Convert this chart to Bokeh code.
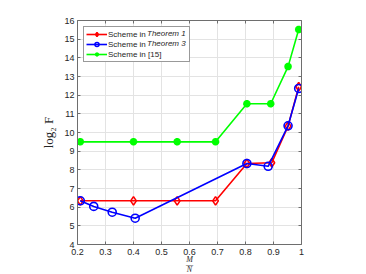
from bokeh.plotting import figure
from bokeh.models import (Range1d, FixedTicker, LinearAxis, CustomJSTickFormatter,
                          Legend, LegendItem)
from bokeh.embed import file_html
from bokeh.resources import INLINE

# ---- data ----
x_t1 = [0.21, 0.40, 0.556, 0.693, 0.805, 0.894, 0.952, 0.99]
y_t1 = [6.34, 6.34, 6.34, 6.34, 8.34, 8.38, 10.34, 12.45]
x_t3 = [0.21, 0.258, 0.324, 0.406, 0.805, 0.881, 0.952, 0.99]
y_t3 = [6.34, 6.04, 5.73, 5.41, 8.34, 8.19, 10.36, 12.36]
x_15 = [0.21, 0.40, 0.556, 0.693, 0.805, 0.890, 0.952, 0.99]
y_15 = [9.5, 9.5, 9.5, 9.5, 11.54, 11.54, 13.53, 15.52]
x_ticks = [0.2, 0.3, 0.4, 0.5, 0.6, 0.7, 0.8, 0.9, 1.0]
y_ticks = list(range(4, 17))
legend_italic = ["Theorem 1", "Theorem 3"]
legend_plain = ["Scheme in", "Scheme in", "Scheme in [15]"]

AX = "#6e6e6e"
TXT = "#262626"
FONT = "Liberation Sans"
SERIF = "Liberation Serif"

p = figure(frame_width=224, frame_height=224, output_backend="svg",
           toolbar_location=None,
           x_range=Range1d(0.2, 1.0), y_range=Range1d(4, 16),
           min_border_left=77, min_border_right=49, min_border_top=20,
           min_border_bottom=0)
p.outline_line_color = None

fmt = CustomJSTickFormatter(code="return Number(tick.toFixed(1)).toString();")
for ax in (p.xaxis[0], p.yaxis[0]):
    ax.major_tick_in = 3
    ax.major_tick_out = 0
    ax.minor_tick_line_color = None
    ax.axis_line_color = AX
    ax.major_tick_line_color = AX
    ax.major_label_text_color = TXT
    ax.major_label_text_font = FONT
    ax.major_label_text_font_size = "9px"
p.xaxis[0].ticker = FixedTicker(ticks=x_ticks)
p.xaxis[0].formatter = fmt
p.yaxis[0].ticker = FixedTicker(ticks=y_ticks)
p.xaxis[0].major_label_standoff = 4
p.yaxis[0].major_label_standoff = 3

p.yaxis[0].axis_label = "log\u2082 F"
p.yaxis[0].axis_label_text_font = SERIF
p.yaxis[0].axis_label_text_font_style = "normal"
p.yaxis[0].axis_label_text_font_size = "13px"
p.yaxis[0].axis_label_text_color = TXT
p.yaxis[0].axis_label_standoff = 5

# x-axis label: the fraction M / N
p.xaxis[0].axis_label = "M\n\u2014\nN"
p.xaxis[0].axis_label_text_font = SERIF
p.xaxis[0].axis_label_text_font_style = "italic"
p.xaxis[0].axis_label_text_font_size = "8px"
p.xaxis[0].axis_label_text_line_height = 0.6
p.xaxis[0].axis_label_text_color = TXT
p.xaxis[0].axis_label_standoff = -3

# box axes (top/right) with inward ticks, no labels
blank = CustomJSTickFormatter(code="return '';")
top = LinearAxis(ticker=FixedTicker(ticks=x_ticks), formatter=blank)
right = LinearAxis(ticker=FixedTicker(ticks=y_ticks), formatter=blank)
for ax in (top, right):
    ax.major_tick_in = 3
    ax.major_tick_out = 0
    ax.minor_tick_line_color = None
    ax.axis_line_color = AX
    ax.major_tick_line_color = AX
    ax.major_label_standoff = 0
p.add_layout(top, "above")
p.add_layout(right, "right")

p.xgrid.ticker = FixedTicker(ticks=x_ticks)
p.ygrid.ticker = FixedTicker(ticks=y_ticks)
p.grid.grid_line_color = "#e3e3e3"
p.grid.grid_line_width = 1

# series
r1 = p.line(x_t1, y_t1, line_color="#ff0000", line_width=1.6)
m1 = p.scatter(x_t1, y_t1, marker="diamond", size=8.5, fill_color=None,
               line_color="#ff0000", line_width=1.6)
r2 = p.line(x_t3, y_t3, line_color="#0000ff", line_width=1.6)
m2 = p.scatter(x_t3, y_t3, marker="circle", size=8, fill_color=None,
               line_color="#0000ff", line_width=1.6)
r3 = p.line(x_15, y_15, line_color="#00ff00", line_width=1.6)
m3 = p.scatter(x_15, y_15, marker="asterisk", size=7.5, line_color="#00ff00",
               line_width=2.5)

legend = Legend(items=[LegendItem(label=legend_plain[0], renderers=[r1, m1]),
                       LegendItem(label=legend_plain[1], renderers=[r2, m2]),
                       LegendItem(label=legend_plain[2], renderers=[r3, m3])],
                location="top_left")
legend.label_text_font = FONT
legend.label_text_font_size = "8px"
legend.label_text_color = TXT
legend.label_height = 10
legend.label_width = 79
legend.glyph_height = 10
legend.glyph_width = 21
legend.spacing = 0
legend.padding = 2
legend.margin = 6
legend.label_standoff = 1
legend.border_line_color = "#333333"
legend.border_line_width = 1
legend.background_fill_alpha = 1
p.add_layout(legend)

# italic part of the legend labels, as a second, borderless legend
legend2 = Legend(items=[LegendItem(label=legend_italic[0], renderers=[r1]),
                        LegendItem(label=legend_italic[1], renderers=[r2])],
                 location=(70, 196))
legend2.label_text_font = FONT
legend2.label_text_font_style = "italic"
legend2.label_text_font_size = "8px"
legend2.label_text_color = TXT
legend2.label_height = 10
legend2.glyph_height = 10
legend2.glyph_width = 0
legend2.label_standoff = 0
legend2.spacing = 0
legend2.padding = 0
legend2.margin = 0
legend2.border_line_color = None
legend2.background_fill_alpha = 0
p.add_layout(legend2)

open("out.html", "w").write(file_html(p, INLINE))
